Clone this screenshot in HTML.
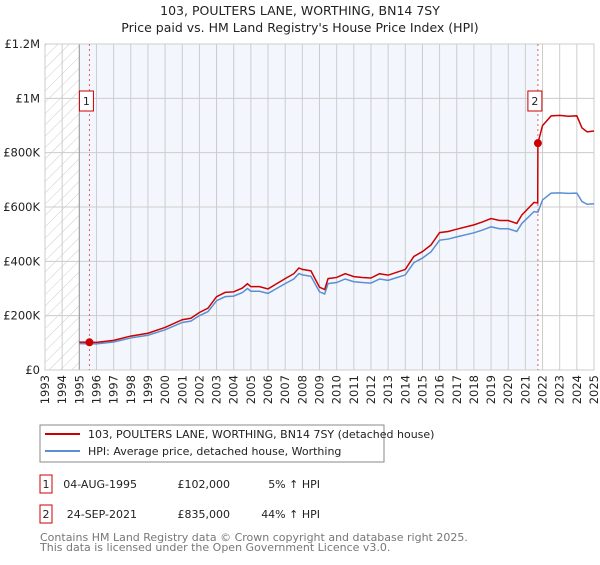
<!DOCTYPE html>
<html><head><meta charset="utf-8"><style>
body{margin:0;background:#fff;font-family:"Liberation Sans","DejaVu Sans",sans-serif;}
svg text{font-family:"DejaVu Sans","Liberation Sans",sans-serif;}
</style></head><body>
<svg id="c" width="600" height="560" xmlns="http://www.w3.org/2000/svg">
<defs><pattern id="hatch" width="8" height="8" patternUnits="userSpaceOnUse" patternTransform="rotate(45)"><line x1="0" y1="0" x2="0" y2="8" stroke="#ccc" stroke-width="1"/></pattern></defs>
<text x="300" y="15" text-anchor="middle" font-size="12.5" fill="#222">103, POULTERS LANE, WORTHING, BN14 7SY</text>
<text x="300" y="32" text-anchor="middle" font-size="12.5" fill="#222">Price paid vs. HM Land Registry's House Price Index (HPI)</text>
<g id="plot"></g>
<g>
<rect x="40" y="425" width="344" height="37" fill="#fff" stroke="#888"/>
<line x1="45" y1="434" x2="80" y2="434" stroke="#cc0000" stroke-width="2"/>
<text x="88" y="438" font-size="11" fill="#222">103, POULTERS LANE, WORTHING, BN14 7SY (detached house)</text>
<line x1="45" y1="451" x2="80" y2="451" stroke="#5b8fd4" stroke-width="2"/>
<text x="88" y="455" font-size="11" fill="#222">HPI: Average price, detached house, Worthing</text>
</g>
<g font-size="11" fill="#222">
<rect x="40" y="475" width="12" height="18" fill="#fff" stroke="#cc0000"/><text x="46" y="488" text-anchor="middle">1</text>
<text x="137" y="488" text-anchor="end">04-AUG-1995</text><text x="230" y="488" text-anchor="end">£102,000</text><text x="320" y="488" text-anchor="end">5% ↑ HPI</text>
<rect x="40" y="505" width="12" height="18" fill="#fff" stroke="#cc0000"/><text x="46" y="518" text-anchor="middle">2</text>
<text x="137" y="518" text-anchor="end">24-SEP-2021</text><text x="230" y="518" text-anchor="end">£835,000</text><text x="320" y="518" text-anchor="end">44% ↑ HPI</text>
</g>
<text x="40" y="541" font-size="11" fill="#777">Contains HM Land Registry data © Crown copyright and database right 2025.</text>
<text x="40" y="551" font-size="11" fill="#777">This data is licensed under the Open Government Licence v3.0.</text>
</svg>
<script>
const years=[1995,1996,1997,1998,1999,2000,2001,2001.5,2002,2002.5,2003,2003.5,2004,2004.5,2004.8,2005,2005.5,2006,2006.5,2007,2007.5,2007.8,2008,2008.5,2009,2009.3,2009.5,2010,2010.5,2011,2011.5,2012,2012.5,2013,2013.5,2014,2014.5,2015,2015.5,2016,2016.5,2017,2018,2018.5,2019,2019.5,2020,2020.5,2020.8,2021,2021.5,2021.73,2022,2022.5,2023,2023.5,2024,2024.3,2024.6,2025];
const hpi=[97,96,103,118,128,148,175,180,200,215,255,270,272,285,300,290,290,282,300,318,335,355,350,345,288,280,318,322,335,325,322,320,335,330,340,350,395,412,435,478,482,490,505,515,527,520,520,510,540,552,583,581,626,651,652,650,651,620,610,612];
const saleDates=[1995.59,2021.73];
const salePrices=[102,835];
const yTicks=[0,200,400,600,800,1000,1200];
const yLabels=["£0","£200K","£400K","£600K","£800K","£1M","£1.2M"];
const xTicks=[1993,1994,1995,1996,1997,1998,1999,2000,2001,2002,2003,2004,2005,2006,2007,2008,2009,2010,2011,2012,2013,2014,2015,2016,2017,2018,2019,2020,2021,2022,2023,2024,2025];

const NS="http://www.w3.org/2000/svg";
const X0=45,X1=594,Y0=370,Y1=44;
const xs=t=>X0+(t-1993)/(2025-1993)*(X1-X0);
const ys=v=>Y0-v/1200*(Y0-Y1);
const g=document.getElementById('plot');
function mk(tag,attrs){const e=document.createElementNS(NS,tag);for(const k in attrs)e.setAttribute(k,attrs[k]);g.appendChild(e);return e;}
// backgrounds
let e=mk('rect',{x:X0,y:Y1,width:xs(1995)-X0,height:Y0-Y1,fill:'url(#hatch)'});


e=mk('rect',{x:xs(1995),y:Y1,width:xs(saleDates[1])-xs(1995),height:Y0-Y1,fill:'#eef3fc',opacity:0.7});


// grid
xTicks.forEach(t=>{
 const l=mk('line',{x1:xs(t),x2:xs(t),y1:Y1,y2:Y0,stroke:'#ccc','stroke-width':1});
 
 
 const tx=mk('text',{x:0,y:0,'font-size':11.5,fill:'#222','text-anchor':'end',transform:`translate(${xs(t)+4},${Y0+5}) rotate(-90)`});
 tx.textContent=t;
 
 
});
yTicks.forEach((v,i)=>{
 const l=mk('line',{x1:X0,x2:X1,y1:ys(v),y2:ys(v),stroke:'#ccc','stroke-width':1});
 
 
 const tx=mk('text',{x:X0-5,y:ys(v)+4,'font-size':11.5,fill:'#222','text-anchor':'end'});
 tx.textContent=yLabels[i];
 
 
});
e=mk('line',{x1:xs(1995),x2:xs(1995),y1:Y1,y2:Y0,stroke:'#999'});


e=mk('rect',{x:X0,y:Y1,width:X1-X0,height:Y0-Y1,fill:'none',stroke:'#ccc'});


// sale lines
saleDates.forEach(d=>{
 const l=mk('line',{x1:xs(d),x2:xs(d),y1:Y1,y2:Y0,stroke:'#e06060','stroke-dasharray':'2,3','stroke-width':1});
 
 
});
// hpi interp
function hpiAt(t){for(let i=0;i<years.length-1;i++){if(t<=years[i+1]){const f=(t-years[i])/(years[i+1]-years[i]);return hpi[i]+f*(hpi[i+1]-hpi[i]);}}return hpi[hpi.length-1];}
// blue line
let pts=years.map((t,i)=>xs(t)+','+ys(hpi[i])).join(' ');
e=mk('polyline',{points:pts,fill:'none',stroke:'#5b8fd4','stroke-width':1.5});


// red line: indexed from sales
const r1=salePrices[0]/hpiAt(saleDates[0]),r2=salePrices[1]/hpiAt(saleDates[1]);
let rp=[];
years.forEach((t,i)=>{
 if(t<saleDates[1]) rp.push([t,hpi[i]*r1]);
});
rp.push([saleDates[1]-0.01,hpiAt(saleDates[1]-0.01)*r1]);
rp.push([saleDates[1],salePrices[1]]);
years.forEach((t,i)=>{if(t>saleDates[1]) rp.push([t,hpi[i]*r2]);});
e=mk('polyline',{points:rp.map(p=>xs(p[0])+','+ys(p[1])).join(' '),fill:'none',stroke:'#cc0000','stroke-width':1.5});


// markers
saleDates.forEach((d,i)=>{
 const c=mk('circle',{cx:xs(d),cy:ys(salePrices[i]),r:4,fill:'#cc0000'});
 
 
 const bx=xs(d)-7-(i==0?-1:0);
 const r=mk('rect',{x:xs(d)-(i==0?9:10)-(i==0?0:0)+(i==0?-1:0),y:91,width:14,height:20,fill:'#fff',stroke:'#cc0000'});
 r.setAttribute('x',i==0?xs(d)-10:xs(d)-10);
 
 
 const tx=mk('text',{x:xs(d)-3,y:105,'font-size':11,fill:'#222','text-anchor':'middle'});
 tx.textContent=String(i+1);
 
 
});
</script>
</body></html>
